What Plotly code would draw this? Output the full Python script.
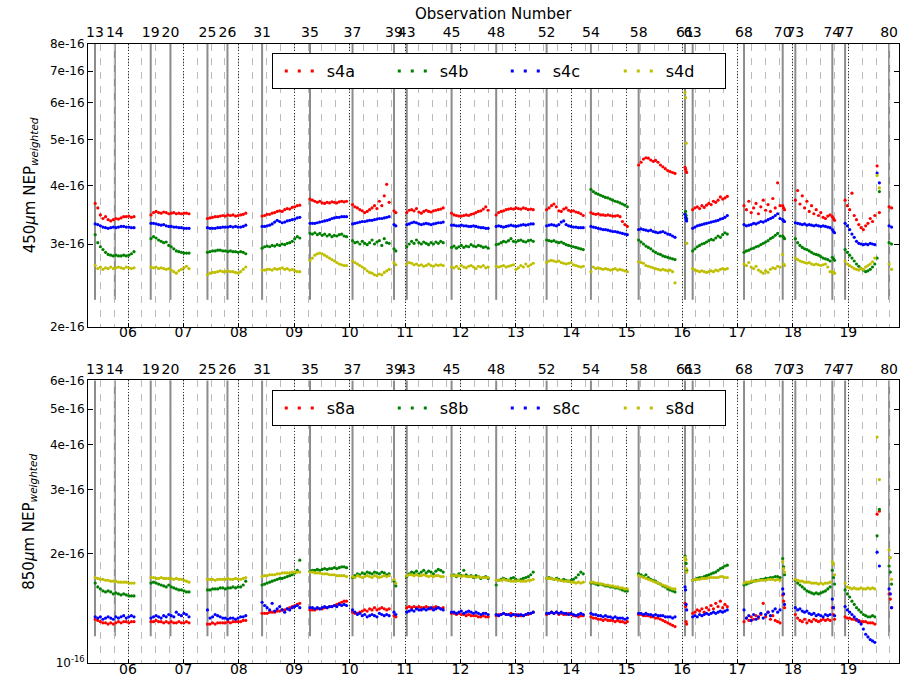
import numpy as np
import plotly.graph_objects as go

# ---------------- data ----------------
hour_ticks = [6, 7, 8, 9, 10, 11, 12, 13, 14, 15, 16, 17, 18, 19]
hour_labels = ["06", "07", "08", "09", "10", "11", "12", "13", "14", "15", "16", "17", "18", "19"]

obs_numbers = ["13", "14", "19", "20", "25", "26", "31", "35", "37", "39", "43", "45", "48",
               "52", "54", "58", "61", "63", "68", "70", "73", "74", "77", "80"]
obs_times = [5.404, 5.763, 6.410, 6.766, 7.434, 7.795, 8.420, 9.285, 10.052, 10.801, 11.031,
             11.840, 12.645, 13.555, 14.355, 15.216, 16.053, 16.191, 17.118, 17.816, 18.044,
             18.712, 18.942, 19.736]

# time span (UT hours) of each block of data
seg_start = [5.408, 6.415, 7.434, 8.420, 9.285, 10.052, 10.801, 11.031, 11.840, 12.645, 13.555,
             14.355, 15.216, 16.053, 16.191, 17.118, 17.816, 18.044, 18.712, 18.942, 19.736]
seg_end = [6.108, 7.101, 8.125, 9.100, 9.944, 10.713, 10.834, 11.688, 12.500, 13.313, 14.216,
           15.011, 15.872, 16.083, 16.816, 17.768, 17.849, 18.671, 18.752, 19.561, 19.781]

UNIT = 1e-16  # values below are in units of 1e-16

s4a = [
    [3.66, 3.58, 3.46, 3.40, 3.43, 3.38, 3.36, 3.38, 3.40, 3.39, 3.41, 3.43, 3.43, 3.44, 3.42, 3.43],
    [3.46, 3.50, 3.52, 3.50, 3.49, 3.51, 3.50, 3.48, 3.49, 3.50, 3.48, 3.49, 3.48, 3.49, 3.49, 3.48],
    [3.40, 3.41, 3.42, 3.43, 3.43, 3.44, 3.45, 3.44, 3.46, 3.45, 3.46, 3.44, 3.45, 3.46, 3.47, 3.49],
    [3.44, 3.45, 3.47, 3.47, 3.49, 3.50, 3.52, 3.53, 3.52, 3.55, 3.57, 3.56, 3.59, 3.60, 3.62, 3.63],
    [3.74, 3.72, 3.70, 3.68, 3.70, 3.67, 3.66, 3.68, 3.67, 3.69, 3.68, 3.67, 3.69, 3.70, 3.69, 3.70],
    [3.64, 3.60, 3.58, 3.55, 3.53, 3.50, 3.52, 3.55, 3.58, 3.62, 3.57, 3.70, 3.62, 3.80, 4.02, 3.68],
    [3.53, 3.50],
    [3.50, 3.54, 3.55, 3.53, 3.57, 3.51, 3.49, 3.52, 3.54, 3.52, 3.51, 3.53, 3.54, 3.55, 3.56, 3.58],
    [3.49, 3.46, 3.45, 3.44, 3.44, 3.45, 3.46, 3.45, 3.47, 3.48, 3.50, 3.52, 3.53, 3.56, 3.60, 3.54],
    [3.46, 3.50, 3.52, 3.53, 3.55, 3.56, 3.57, 3.56, 3.58, 3.57, 3.56, 3.58, 3.57, 3.55, 3.56, 3.55],
    [3.55, 3.58, 3.62, 3.65, 3.60, 3.53, 3.52, 3.56, 3.58, 3.54, 3.52, 3.53, 3.51, 3.50, 3.48, 3.45],
    [3.50, 3.48, 3.47, 3.48, 3.46, 3.46, 3.45, 3.46, 3.45, 3.44, 3.44, 3.45, 3.43, 3.35, 3.30, 3.27],
    [4.42, 4.48, 4.55, 4.58, 4.57, 4.53, 4.50, 4.52, 4.48, 4.42, 4.38, 4.34, 4.30, 4.28, 4.26, 4.24],
    [4.37, 4.33, 4.28, 4.26],
    [3.55, 3.58, 3.60, 3.57, 3.62, 3.59, 3.63, 3.66, 3.64, 3.70, 3.68, 3.72, 3.78, 3.74, 3.76, 3.79],
    [3.62, 3.55, 3.70, 3.50, 3.58, 3.66, 3.48, 3.60, 3.72, 3.54, 3.64, 3.52, 3.75, 3.58, 4.05, 3.62],
    [3.62, 3.58, 3.55],
    [3.72, 3.90, 3.65, 3.80, 3.58, 3.70, 3.52, 3.62, 3.48, 3.55, 3.45, 3.50, 3.42, 3.40, 3.44, 3.46],
    [3.43, 3.40, 3.37],
    [3.72, 3.62, 3.55, 3.85, 3.45, 3.38, 3.30, 3.25, 3.22, 3.28, 3.32, 3.40, 3.35, 3.45, 4.40, 3.50],
    [3.60, 3.58],
]
s4b = [
    [3.14, 3.02, 2.96, 2.92, 2.88, 2.85, 2.84, 2.83, 2.84, 2.83, 2.83, 2.84, 2.83, 2.84, 2.86, 2.89],
    [3.08, 3.11, 3.09, 3.06, 3.04, 3.02, 3.03, 2.98, 2.96, 2.93, 2.90, 2.89, 2.88, 2.87, 2.87, 2.87],
    [2.88, 2.89, 2.90, 2.90, 2.91, 2.91, 2.90, 2.90, 2.89, 2.90, 2.89, 2.89, 2.88, 2.89, 2.88, 2.86],
    [2.94, 2.96, 2.97, 2.96, 2.98, 2.97, 2.99, 2.98, 3.00, 2.99, 3.01, 3.02, 3.04, 3.08, 3.11, 3.09],
    [3.16, 3.15, 3.17, 3.14, 3.16, 3.13, 3.15, 3.12, 3.14, 3.11, 3.13, 3.12, 3.14, 3.15, 3.12, 3.11],
    [3.05, 3.02, 3.03, 3.00, 3.04, 3.01, 2.99, 3.02, 3.06, 3.00, 3.03, 3.05, 2.98, 3.08, 3.02, 3.01],
    [2.93, 2.90],
    [2.96, 3.00, 3.04, 3.01, 3.06, 3.02, 3.00, 3.03, 3.01, 2.99, 3.02, 3.00, 3.03, 3.01, 3.04, 3.02],
    [2.95, 2.97, 2.94, 2.96, 2.98, 2.95, 2.97, 2.96, 2.99, 2.97, 2.96, 2.98, 2.97, 2.95, 2.96, 2.94],
    [2.99, 3.00, 3.02, 3.04, 3.03, 3.05, 3.08, 3.04, 3.03, 3.05, 3.06, 3.04, 3.03, 3.05, 3.06, 3.04],
    [3.06, 3.05, 3.04, 3.05, 3.03, 3.02, 3.03, 3.01, 2.99, 2.98, 2.97, 2.96, 2.95, 2.94, 2.93, 2.92],
    [3.92, 3.88, 3.85, 3.83, 3.81, 3.79, 3.77, 3.76, 3.74, 3.72, 3.70, 3.69, 3.67, 3.65, 3.63, 3.60],
    [3.06, 3.03, 3.00, 2.97, 2.95, 2.93, 2.90, 2.88, 2.86, 2.85, 2.83, 2.82, 2.81, 2.80, 2.79, 2.78],
    [3.48, 3.52, 3.45, 3.40],
    [2.90, 2.93, 2.96, 2.98, 3.00, 3.01, 3.03, 3.05, 3.07, 3.06, 3.09, 3.12, 3.10, 3.14, 3.17, 3.15],
    [2.88, 2.90, 2.91, 2.93, 2.94, 2.96, 2.97, 2.99, 3.01, 3.03, 3.05, 3.08, 3.10, 3.13, 3.16, 3.12],
    [3.12, 3.10, 3.08],
    [3.08, 3.02, 2.98, 2.95, 2.93, 2.92, 2.90, 2.88, 2.86, 2.85, 2.84, 2.82, 2.80, 2.79, 2.78, 2.76],
    [2.81, 2.79, 2.77],
    [2.92, 2.88, 2.84, 2.80, 2.76, 2.72, 2.69, 2.66, 2.64, 2.62, 2.63, 2.65, 2.68, 2.72, 2.80, 3.88],
    [3.02, 3.00],
]
s4c = [
    [3.31, 3.30, 3.28, 3.26, 3.25, 3.24, 3.25, 3.26, 3.25, 3.26, 3.27, 3.27, 3.26, 3.26, 3.25, 3.25],
    [3.32, 3.32, 3.31, 3.30, 3.29, 3.30, 3.28, 3.27, 3.27, 3.26, 3.26, 3.25, 3.25, 3.24, 3.24, 3.24],
    [3.25, 3.24, 3.24, 3.24, 3.25, 3.25, 3.26, 3.26, 3.26, 3.27, 3.26, 3.27, 3.26, 3.26, 3.27, 3.29],
    [3.27, 3.27, 3.28, 3.29, 3.31, 3.34, 3.37, 3.35, 3.33, 3.34, 3.36, 3.37, 3.38, 3.39, 3.41, 3.42],
    [3.32, 3.32, 3.32, 3.33, 3.34, 3.35, 3.36, 3.37, 3.38, 3.40, 3.41, 3.42, 3.42, 3.43, 3.43, 3.43],
    [3.31, 3.32, 3.33, 3.34, 3.35, 3.35, 3.36, 3.37, 3.37, 3.38, 3.39, 3.40, 3.40, 3.41, 3.42, 3.43],
    [3.30, 3.28],
    [3.30, 3.31, 3.33, 3.34, 3.33, 3.31, 3.30, 3.31, 3.32, 3.31, 3.30, 3.31, 3.32, 3.33, 3.33, 3.34],
    [3.29, 3.29, 3.28, 3.28, 3.29, 3.28, 3.28, 3.27, 3.27, 3.28, 3.27, 3.26, 3.25, 3.25, 3.24, 3.24],
    [3.27, 3.28, 3.27, 3.26, 3.27, 3.28, 3.29, 3.28, 3.27, 3.28, 3.29, 3.30, 3.29, 3.30, 3.31, 3.31],
    [3.28, 3.29, 3.30, 3.29, 3.28, 3.30, 3.34, 3.36, 3.30, 3.28, 3.27, 3.26, 3.26, 3.25, 3.25, 3.25],
    [3.27, 3.26, 3.25, 3.24, 3.23, 3.22, 3.22, 3.21, 3.20, 3.19, 3.19, 3.18, 3.17, 3.16, 3.15, 3.14],
    [3.22, 3.23, 3.22, 3.21, 3.20, 3.21, 3.19, 3.18, 3.17, 3.18, 3.19, 3.17, 3.15, 3.14, 3.12, 3.10],
    [3.47, 3.42, 3.38, 3.36],
    [3.24, 3.26, 3.28, 3.29, 3.30, 3.31, 3.32, 3.33, 3.34, 3.35, 3.36, 3.37, 3.39, 3.40, 3.42, 3.45],
    [3.30, 3.28, 3.29, 3.30, 3.32, 3.31, 3.33, 3.35, 3.34, 3.36, 3.38, 3.40, 3.42, 3.45, 3.48, 3.40],
    [3.38, 3.36, 3.35],
    [3.33, 3.32, 3.31, 3.30, 3.31, 3.29, 3.30, 3.29, 3.28, 3.29, 3.28, 3.27, 3.28, 3.27, 3.26, 3.25],
    [3.22, 3.19, 3.17],
    [3.32, 3.28, 3.22, 3.15, 3.10, 3.04, 3.01, 3.00, 2.99, 3.00, 2.99, 3.01, 3.00, 2.99, 4.25, 4.05],
    [3.28, 3.26],
]
s4d = [
    [2.70, 2.66, 2.68, 2.65, 2.67, 2.66, 2.68, 2.66, 2.67, 2.68, 2.67, 2.66, 2.68, 2.67, 2.66, 2.67],
    [2.68, 2.67, 2.68, 2.66, 2.67, 2.66, 2.65, 2.66, 2.64, 2.62, 2.60, 2.63, 2.65, 2.67, 2.69, 2.66],
    [2.58, 2.60, 2.61, 2.61, 2.62, 2.63, 2.62, 2.62, 2.63, 2.62, 2.62, 2.61, 2.60, 2.62, 2.65, 2.68],
    [2.64, 2.64, 2.65, 2.65, 2.64, 2.66, 2.65, 2.66, 2.67, 2.65, 2.66, 2.64, 2.65, 2.63, 2.62, 2.62],
    [2.77, 2.80, 2.84, 2.86, 2.87, 2.86, 2.84, 2.82, 2.80, 2.78, 2.76, 2.74, 2.72, 2.71, 2.70, 2.70],
    [2.76, 2.74, 2.72, 2.70, 2.68, 2.66, 2.63, 2.61, 2.60, 2.58, 2.57, 2.59, 2.58, 2.61, 2.63, 2.65],
    [2.74, 2.71],
    [2.72, 2.74, 2.73, 2.71, 2.72, 2.70, 2.71, 2.69, 2.70, 2.72, 2.70, 2.69, 2.71, 2.70, 2.71, 2.70],
    [2.68, 2.67, 2.69, 2.66, 2.70, 2.68, 2.67, 2.69, 2.70, 2.68, 2.66, 2.69, 2.68, 2.70, 2.67, 2.68],
    [2.69, 2.68, 2.69, 2.70, 2.68, 2.69, 2.70, 2.71, 2.65, 2.67, 2.70, 2.68, 2.72, 2.69, 2.71, 2.73],
    [2.74, 2.76, 2.77, 2.76, 2.75, 2.76, 2.74, 2.73, 2.72, 2.73, 2.74, 2.71, 2.70, 2.69, 2.68, 2.69],
    [2.62, 2.68, 2.66, 2.67, 2.66, 2.65, 2.66, 2.65, 2.64, 2.65, 2.66, 2.64, 2.65, 2.64, 2.63, 2.62],
    [2.75, 2.74, 2.73, 2.70, 2.69, 2.68, 2.67, 2.66, 2.65, 2.64, 2.65, 2.64, 2.63, 2.64, 2.62, 2.48],
    [6.30, 6.15, 4.92, 3.01],
    [2.66, 2.64, 2.63, 2.62, 2.63, 2.62, 2.61, 2.62, 2.63, 2.62, 2.64, 2.63, 2.65, 2.66, 2.65, 2.66],
    [2.72, 2.70, 2.74, 2.68, 2.66, 2.69, 2.64, 2.62, 2.60, 2.63, 2.61, 2.65, 2.67, 2.66, 2.69, 2.68],
    [2.85, 2.72, 2.70],
    [2.80, 2.78, 2.76, 2.75, 2.74, 2.73, 2.74, 2.72, 2.71, 2.72, 2.71, 2.70, 2.71, 2.72, 2.68, 2.62],
    [2.62, 2.61, 2.60],
    [2.76, 2.72, 2.70, 2.68, 2.66, 2.65, 2.64, 2.66, 2.65, 2.68, 2.70, 2.72, 2.75, 2.80, 4.20, 3.95],
    [2.72, 2.65],
]

s8a = [
    [1.32, 1.31, 1.30, 1.29, 1.29, 1.28, 1.29, 1.28, 1.29, 1.30, 1.29, 1.30, 1.30, 1.29, 1.30, 1.30],
    [1.30, 1.30, 1.31, 1.30, 1.30, 1.29, 1.30, 1.29, 1.30, 1.29, 1.29, 1.30, 1.29, 1.29, 1.30, 1.29],
    [1.28, 1.28, 1.29, 1.28, 1.29, 1.29, 1.29, 1.29, 1.30, 1.29, 1.30, 1.30, 1.30, 1.30, 1.31, 1.31],
    [1.37, 1.37, 1.37, 1.38, 1.38, 1.38, 1.39, 1.39, 1.40, 1.40, 1.41, 1.42, 1.43, 1.44, 1.45, 1.46],
    [1.40, 1.40, 1.40, 1.41, 1.41, 1.41, 1.42, 1.42, 1.43, 1.43, 1.44, 1.45, 1.46, 1.47, 1.48, 1.48],
    [1.38, 1.37, 1.37, 1.38, 1.39, 1.40, 1.39, 1.41, 1.40, 1.42, 1.40, 1.41, 1.42, 1.41, 1.40, 1.41],
    [1.35, 1.34],
    [1.42, 1.43, 1.42, 1.43, 1.42, 1.43, 1.42, 1.42, 1.43, 1.42, 1.41, 1.42, 1.43, 1.42, 1.41, 1.42],
    [1.37, 1.37, 1.36, 1.37, 1.36, 1.36, 1.35, 1.36, 1.35, 1.35, 1.35, 1.34, 1.34, 1.35, 1.34, 1.34],
    [1.35, 1.36, 1.36, 1.37, 1.36, 1.36, 1.37, 1.36, 1.35, 1.36, 1.35, 1.35, 1.36, 1.36, 1.37, 1.38],
    [1.36, 1.37, 1.38, 1.37, 1.38, 1.36, 1.37, 1.36, 1.36, 1.37, 1.36, 1.35, 1.35, 1.34, 1.35, 1.35],
    [1.34, 1.33, 1.33, 1.32, 1.32, 1.31, 1.32, 1.31, 1.31, 1.31, 1.30, 1.31, 1.30, 1.30, 1.29, 1.30],
    [1.36, 1.36, 1.35, 1.35, 1.35, 1.34, 1.34, 1.33, 1.33, 1.32, 1.31, 1.30, 1.29, 1.28, 1.27, 1.26],
    [1.46, 1.43, 1.30, 1.28],
    [1.37, 1.38, 1.40, 1.39, 1.41, 1.38, 1.42, 1.40, 1.44, 1.41, 1.46, 1.43, 1.48, 1.42, 1.45, 1.43],
    [1.30, 1.33, 1.31, 1.34, 1.32, 1.35, 1.33, 1.36, 1.46, 1.34, 1.38, 1.32, 1.35, 1.31, 1.30, 1.29],
    [1.54, 1.48, 1.42],
    [1.36, 1.33, 1.31, 1.30, 1.32, 1.29, 1.31, 1.30, 1.32, 1.31, 1.30, 1.31, 1.32, 1.31, 1.32, 1.31],
    [1.42, 1.36, 1.32],
    [1.34, 1.33, 1.33, 1.32, 1.32, 1.31, 1.31, 1.30, 1.30, 1.30, 1.29, 1.29, 1.29, 1.28, 2.57, 2.62],
    [1.55, 1.50, 1.42],
]
s8b = [
    [1.66, 1.62, 1.60, 1.58, 1.57, 1.58, 1.57, 1.55, 1.56, 1.55, 1.54, 1.55, 1.54, 1.53, 1.53, 1.53],
    [1.66, 1.67, 1.66, 1.65, 1.64, 1.63, 1.62, 1.64, 1.62, 1.61, 1.60, 1.59, 1.59, 1.58, 1.57, 1.57],
    [1.59, 1.59, 1.60, 1.60, 1.60, 1.61, 1.61, 1.60, 1.61, 1.61, 1.62, 1.61, 1.62, 1.62, 1.64, 1.68],
    [1.64, 1.65, 1.66, 1.67, 1.68, 1.69, 1.70, 1.71, 1.71, 1.72, 1.73, 1.74, 1.75, 1.77, 1.80, 1.92],
    [1.79, 1.80, 1.80, 1.81, 1.80, 1.81, 1.82, 1.81, 1.82, 1.82, 1.83, 1.82, 1.83, 1.84, 1.84, 1.83],
    [1.72, 1.74, 1.76, 1.75, 1.77, 1.76, 1.78, 1.77, 1.76, 1.78, 1.77, 1.76, 1.78, 1.77, 1.75, 1.76],
    [1.68, 1.63],
    [1.73, 1.76, 1.78, 1.77, 1.79, 1.76, 1.78, 1.80, 1.77, 1.79, 1.78, 1.76, 1.79, 1.81, 1.80, 1.78],
    [1.74, 1.75, 1.73, 1.76, 1.74, 1.80, 1.75, 1.73, 1.74, 1.72, 1.74, 1.73, 1.71, 1.72, 1.73, 1.71],
    [1.64, 1.69, 1.70, 1.71, 1.70, 1.69, 1.71, 1.72, 1.70, 1.69, 1.70, 1.71, 1.72, 1.73, 1.75, 1.78],
    [1.71, 1.72, 1.71, 1.70, 1.71, 1.70, 1.69, 1.70, 1.69, 1.68, 1.69, 1.70, 1.72, 1.75, 1.78, 1.76],
    [1.66, 1.66, 1.65, 1.64, 1.65, 1.64, 1.63, 1.63, 1.62, 1.62, 1.61, 1.61, 1.60, 1.59, 1.58, 1.58],
    [1.76, 1.75, 1.73, 1.75, 1.72, 1.70, 1.69, 1.68, 1.66, 1.65, 1.63, 1.62, 1.60, 1.59, 1.58, 1.57],
    [1.97, 1.93, 1.88, 1.80],
    [1.69, 1.70, 1.71, 1.72, 1.72, 1.73, 1.74, 1.75, 1.76, 1.77, 1.78, 1.80, 1.82, 1.83, 1.85, 1.86],
    [1.64, 1.65, 1.66, 1.67, 1.68, 1.69, 1.69, 1.70, 1.70, 1.71, 1.71, 1.72, 1.72, 1.73, 1.73, 1.72],
    [1.94, 1.84, 1.75],
    [1.69, 1.66, 1.64, 1.62, 1.60, 1.58, 1.57, 1.56, 1.55, 1.56, 1.55, 1.56, 1.57, 1.58, 1.60, 1.62],
    [1.80, 1.72, 1.65],
    [1.59, 1.55, 1.52, 1.48, 1.45, 1.42, 1.40, 1.38, 1.36, 1.35, 1.34, 1.34, 1.35, 1.34, 2.24, 2.65],
    [1.85, 1.78, 1.65],
]
s8c = [
    [1.34, 1.33, 1.34, 1.32, 1.33, 1.34, 1.33, 1.32, 1.34, 1.33, 1.34, 1.35, 1.33, 1.34, 1.35, 1.34],
    [1.33, 1.34, 1.35, 1.34, 1.33, 1.35, 1.34, 1.36, 1.35, 1.34, 1.38, 1.36, 1.35, 1.37, 1.36, 1.34],
    [1.40, 1.33, 1.34, 1.36, 1.35, 1.34, 1.33, 1.33, 1.32, 1.33, 1.33, 1.32, 1.33, 1.34, 1.34, 1.35],
    [1.47, 1.44, 1.42, 1.40, 1.46, 1.39, 1.41, 1.43, 1.40, 1.38, 1.41, 1.40, 1.42, 1.43, 1.44, 1.42],
    [1.42, 1.42, 1.41, 1.42, 1.41, 1.42, 1.43, 1.42, 1.43, 1.43, 1.44, 1.43, 1.45, 1.44, 1.45, 1.44],
    [1.40, 1.38, 1.36, 1.37, 1.35, 1.36, 1.34, 1.35, 1.36, 1.35, 1.34, 1.37, 1.36, 1.35, 1.36, 1.35],
    [1.38, 1.36],
    [1.38, 1.39, 1.40, 1.39, 1.41, 1.40, 1.40, 1.41, 1.40, 1.41, 1.42, 1.40, 1.41, 1.42, 1.41, 1.40],
    [1.38, 1.38, 1.37, 1.38, 1.39, 1.37, 1.38, 1.39, 1.38, 1.37, 1.38, 1.37, 1.36, 1.37, 1.37, 1.36],
    [1.36, 1.35, 1.36, 1.37, 1.36, 1.36, 1.35, 1.36, 1.36, 1.35, 1.36, 1.35, 1.36, 1.37, 1.37, 1.38],
    [1.37, 1.37, 1.38, 1.37, 1.38, 1.37, 1.38, 1.37, 1.37, 1.36, 1.37, 1.36, 1.35, 1.36, 1.37, 1.36],
    [1.37, 1.36, 1.36, 1.35, 1.35, 1.34, 1.35, 1.34, 1.34, 1.33, 1.34, 1.33, 1.33, 1.33, 1.32, 1.33],
    [1.37, 1.37, 1.36, 1.37, 1.36, 1.36, 1.35, 1.36, 1.35, 1.35, 1.35, 1.34, 1.34, 1.34, 1.33, 1.34],
    [1.62, 1.59, 1.45, 1.40],
    [1.34, 1.35, 1.34, 1.36, 1.35, 1.36, 1.37, 1.36, 1.37, 1.38, 1.37, 1.38, 1.39, 1.38, 1.39, 1.40],
    [1.40, 1.33, 1.35, 1.31, 1.36, 1.32, 1.34, 1.37, 1.33, 1.36, 1.38, 1.35, 1.39, 1.41, 1.38, 1.40],
    [1.60, 1.55, 1.45],
    [1.42, 1.40, 1.41, 1.39, 1.38, 1.39, 1.37, 1.36, 1.37, 1.35, 1.36, 1.35, 1.34, 1.36, 1.35, 1.36],
    [1.50, 1.42, 1.35],
    [1.43, 1.40, 1.38, 1.36, 1.34, 1.32, 1.30, 1.28, 1.24, 1.20, 1.18, 1.16, 1.15, 1.14, 2.02, 1.85],
    [1.60, 1.55, 1.42],
]
s8d = [
    [1.72, 1.71, 1.70, 1.70, 1.69, 1.69, 1.68, 1.68, 1.68, 1.67, 1.67, 1.67, 1.67, 1.66, 1.66, 1.66],
    [1.72, 1.72, 1.71, 1.71, 1.72, 1.71, 1.71, 1.71, 1.71, 1.70, 1.71, 1.70, 1.70, 1.69, 1.68, 1.67],
    [1.70, 1.70, 1.70, 1.69, 1.70, 1.70, 1.70, 1.70, 1.71, 1.70, 1.70, 1.71, 1.70, 1.70, 1.71, 1.72],
    [1.73, 1.74, 1.74, 1.75, 1.75, 1.75, 1.76, 1.76, 1.77, 1.77, 1.77, 1.77, 1.78, 1.78, 1.78, 1.78],
    [1.78, 1.78, 1.77, 1.77, 1.77, 1.76, 1.76, 1.76, 1.75, 1.75, 1.75, 1.74, 1.74, 1.74, 1.74, 1.73],
    [1.73, 1.72, 1.74, 1.73, 1.72, 1.73, 1.74, 1.73, 1.72, 1.74, 1.73, 1.72, 1.73, 1.74, 1.73, 1.74],
    [1.70, 1.66],
    [1.74, 1.75, 1.75, 1.74, 1.75, 1.74, 1.74, 1.75, 1.74, 1.73, 1.74, 1.73, 1.74, 1.74, 1.73, 1.73],
    [1.74, 1.74, 1.74, 1.74, 1.73, 1.74, 1.73, 1.73, 1.73, 1.73, 1.72, 1.73, 1.72, 1.72, 1.72, 1.72],
    [1.69, 1.69, 1.69, 1.70, 1.69, 1.69, 1.68, 1.68, 1.68, 1.69, 1.68, 1.68, 1.68, 1.69, 1.69, 1.70],
    [1.71, 1.71, 1.71, 1.70, 1.70, 1.69, 1.69, 1.68, 1.68, 1.68, 1.67, 1.67, 1.66, 1.67, 1.66, 1.67],
    [1.67, 1.67, 1.66, 1.66, 1.65, 1.65, 1.64, 1.64, 1.63, 1.63, 1.62, 1.62, 1.61, 1.61, 1.60, 1.60],
    [1.74, 1.73, 1.72, 1.71, 1.70, 1.69, 1.68, 1.67, 1.66, 1.65, 1.64, 1.63, 1.62, 1.61, 1.60, 1.60],
    [1.95, 1.92, 1.82, 1.78],
    [1.69, 1.70, 1.70, 1.70, 1.71, 1.71, 1.71, 1.72, 1.72, 1.72, 1.72, 1.72, 1.73, 1.73, 1.72, 1.72],
    [1.66, 1.67, 1.67, 1.68, 1.68, 1.68, 1.69, 1.69, 1.69, 1.69, 1.70, 1.70, 1.70, 1.69, 1.70, 1.69],
    [1.90, 1.82, 1.78],
    [1.70, 1.69, 1.68, 1.68, 1.67, 1.67, 1.67, 1.66, 1.66, 1.66, 1.65, 1.66, 1.65, 1.66, 1.66, 1.67],
    [1.90, 1.87, 1.75],
    [1.66, 1.62, 1.61, 1.60, 1.61, 1.60, 1.60, 1.61, 1.60, 1.60, 1.61, 1.60, 1.61, 1.60, 4.19, 3.20],
    [2.05, 1.95, 1.70],
]

top_series = [("s4a", s4a), ("s4b", s4b), ("s4c", s4c), ("s4d", s4d)]
bot_series = [("s8a", s8a), ("s8b", s8b), ("s8c", s8c), ("s8d", s8d)]
colors = ["#ff0000", "#008000", "#0000ff", "#bfbf00"]

top_yticks = [2, 3, 4, 5, 6, 7, 8]
top_ylabels = ["2e-16", "3e-16", "4e-16", "5e-16", "6e-16", "7e-16", "8e-16"]
bot_yticks = [1, 2, 3, 4, 5, 6]
bot_ylabels = ["10<sup>-16</sup>", "2e-16", "3e-16", "4e-16", "5e-16", "6e-16"]


def series_xy(blocks):
    xs, ys = [], []
    for st, en, vals in zip(seg_start, seg_end, blocks):
        xs.extend(np.linspace(st, en, len(vals)).tolist())
        ys.extend([v * UNIT for v in vals])
    return xs, ys


FONT = "DejaVu Sans"
XR = [5.278, 19.915]
LEG_DASH = "0px,7px,3px,10px,3px,10px,3px,60px"   # three dots in the legend symbol

fig = go.Figure()

for (name, blocks), c in zip(top_series, colors):
    x, y = series_xy(blocks)
    fig.add_trace(go.Scatter(x=x, y=y, mode="markers", marker=dict(size=3.2, color=c),
                             xaxis="x", yaxis="y", showlegend=False, hoverinfo="skip"))
for (name, blocks), c in zip(bot_series, colors):
    x, y = series_xy(blocks)
    fig.add_trace(go.Scatter(x=x, y=y, mode="markers", marker=dict(size=3.2, color=c),
                             xaxis="x2", yaxis="y2", showlegend=False, hoverinfo="skip"))

# legend-only entries
for (name, _), c in zip(top_series, colors):
    fig.add_trace(go.Scatter(x=[None], y=[None], mode="lines", name=name,
                             line=dict(color=c, width=3, dash=LEG_DASH),
                             xaxis="x", yaxis="y", legend="legend"))
for (name, _), c in zip(bot_series, colors):
    fig.add_trace(go.Scatter(x=[None], y=[None], mode="lines", name=name,
                             line=dict(color=c, width=3, dash=LEG_DASH),
                             xaxis="x2", yaxis="y2", legend="legend2"))

# invisible anchors for the observation-number axes
fig.add_trace(go.Scatter(x=[obs_times[0]], y=[3 * UNIT], mode="markers", marker=dict(opacity=0),
                         xaxis="x3", yaxis="y", showlegend=False, hoverinfo="skip"))
fig.add_trace(go.Scatter(x=[obs_times[0]], y=[3 * UNIT], mode="markers", marker=dict(opacity=0),
                         xaxis="x4", yaxis="y2", showlegend=False, hoverinfo="skip"))

shapes = []
for t in obs_times:
    for xr, yr in (("x", "y domain"), ("x2", "y2 domain")):
        shapes.append(dict(type="line", xref=xr, yref=yr, x0=t, x1=t, y0=0.095, y1=1,
                           line=dict(color="#8c8c8c", width=2), layer="below"))

xbase = dict(range=XR, tickmode="array", tickvals=hour_ticks, ticktext=hour_labels,
             showline=True, linecolor="black", linewidth=1, mirror=True,
             ticks="inside", ticklen=4, tickcolor="black", automargin=False,
             showgrid=True, gridcolor="#333333", griddash="1px,2px", gridwidth=1,
             minor=dict(dtick=0.25, tick0=0, showgrid=True, gridcolor="#bbbbbb",
                        griddash="7px,7px", gridwidth=1, ticks=""),
             ticklabelstandoff=-7,
             tickfont=dict(family=FONT, size=14, color="black"), zeroline=False)
obsaxis = dict(range=XR, tickmode="array", tickvals=obs_times, ticktext=obs_numbers,
               side="top", showgrid=False, showline=False, ticks="", zeroline=False,
               tickangle=0, automargin=False, ticklabelstandoff=3,
               tickfont=dict(family=FONT, size=14, color="black"))
ybase = dict(type="log", showline=True, linecolor="black", linewidth=1, mirror="ticks",
             ticks="inside", ticklen=5, tickcolor="black", showgrid=False, zeroline=False,
             automargin=False,
             tickfont=dict(family=FONT, size=12, color="black"))

legend_common = dict(xanchor="left", yanchor="top", orientation="h",
                     bordercolor="black", borderwidth=1, bgcolor="white",
                     font=dict(family=FONT, size=16, color="black"),
                     itemwidth=44, entrywidth=54, entrywidthmode="pixels")

fig.update_layout(
    width=913, height=678,
    margin=dict(l=88, r=14, t=44, b=15),
    paper_bgcolor="white", plot_bgcolor="white",
    font=dict(family=FONT, color="black"),
    xaxis=dict(**xbase, domain=[0, 1], anchor="y"),
    xaxis2=dict(**xbase, domain=[0, 1], anchor="y2"),
    xaxis3=dict(**obsaxis, overlaying="x", anchor="y"),
    xaxis4=dict(**obsaxis, overlaying="x2", anchor="y2"),
    yaxis=dict(**ybase, domain=[0.5433, 1], anchor="x",
               range=[np.log10(2e-16), np.log10(8e-16)],
               tickvals=[v * UNIT for v in top_yticks], ticktext=top_ylabels),
    yaxis2=dict(**ybase, domain=[0, 0.4564], anchor="x2",
                range=[np.log10(1e-16), np.log10(6e-16)],
                tickvals=[v * UNIT for v in bot_yticks], ticktext=bot_ylabels),
    legend=dict(x=0.2266, y=0.9855, **legend_common),
    legend2=dict(x=0.2266, y=0.441, **legend_common),
    shapes=shapes,
    annotations=[
        dict(text="Observation Number", xref="paper", yref="paper", x=0.5, y=1.0485,
             xanchor="center", yanchor="middle", showarrow=False,
             font=dict(family=FONT, size=15, color="black")),
        dict(text="450<i>μ</i>m NEP<sub><i>weighted</i></sub>", xref="paper", yref="paper",
             x=0, xshift=-58, y=0.7717, xanchor="center", yanchor="middle", textangle=-90,
             showarrow=False, font=dict(family=FONT, size=15, color="black")),
        dict(text="850<i>μ</i>m NEP<sub><i>weighted</i></sub>", xref="paper", yref="paper",
             x=0, xshift=-58, y=0.2282, xanchor="center", yanchor="middle", textangle=-90,
             showarrow=False, font=dict(family=FONT, size=15, color="black")),
    ],
)

fig.write_html("out.html", config={"displayModeBar": False},
               post_script="document.body.style.margin='0';")
